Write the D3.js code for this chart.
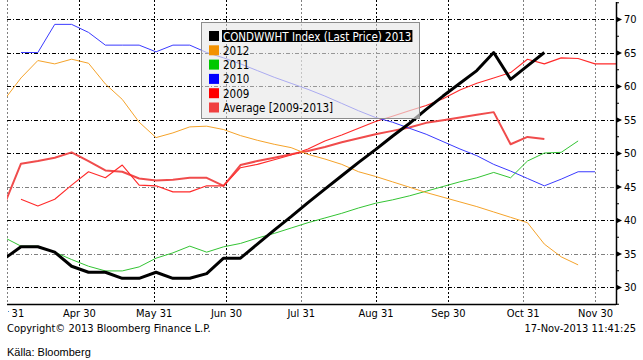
<!DOCTYPE html>
<html>
<head>
<meta charset="utf-8">
<script src="https://cdn.jsdelivr.net/npm/d3@7"></script>
<style>
    body { margin: 0; background: #fff; }
    svg text { font-family: "DejaVu Sans Condensed", "DejaVu Sans", sans-serif; font-stretch: condensed; }
</style>
</head>
<body>
<div id="chart"></div>
<script>
// weekly observation dates (Saturdays)
const weekDates = [
    "2013-03-30", "2013-04-06", "2013-04-13", "2013-04-20", "2013-04-27",
    "2013-05-04", "2013-05-11", "2013-05-18", "2013-05-25", "2013-06-01",
    "2013-06-08", "2013-06-15", "2013-06-22", "2013-06-29", "2013-07-06",
    "2013-07-13", "2013-07-20", "2013-07-27", "2013-08-03", "2013-08-10",
    "2013-08-17", "2013-08-24", "2013-08-31", "2013-09-07", "2013-09-14",
    "2013-09-21", "2013-09-28", "2013-10-05", "2013-10-12", "2013-10-19",
    "2013-10-26", "2013-11-02", "2013-11-09", "2013-11-16", "2013-11-23",
    "2013-11-30", "2013-12-07", "2013-12-14"
];

const series2013 = [34.2, 36, 36, 35.2, 33.1, 32.2, 32.2, 31.3, 31.3, 32.2, 31.3, 31.3, 32, 34.3, 34.3,
    36.4, 38.5, 40.5, 42.6, 44.6, 46.6, 48.6, 50.5, 52.5, 54.4, 56.5, 58.5, 60.4, 62.3, 65, 61, 63, 65];
const series2012 = [57.9, 61.2, 63.8, 63.3, 64, 63.4, 60.3, 58, 54.6, 52.3, 53, 53.9, 54, 53.5, 52.6,
    51.9, 51.3, 50.8, 49.8, 49.1, 48.3, 47.2, 46.5, 45.7, 44.9, 44.1, 43.4, 42.7, 42, 41.2, 40.4, 39.6,
    36.4, 34.5, 33.3];
const series2011 = [37.4, 36.1, 36.1, 35.2, 34.1, 33.1, 32.4, 32.4, 33, 34.3, 35.1, 36.1, 35.2, 36, 36.5,
    37.3, 38, 38.8, 39.6, 40.3, 41, 41.8, 42.5, 43, 43.6, 44.3, 45, 45.7, 46.3, 47.1, 46.3, 48.8, 50, 50.1, 51.8];
const series2010 = [null, 65, 65, 69.2, 69.2, 68, 66.1, 66.1, 66.1, 65.1, 66.1, 66.1, 65, 64.2, 63.3,
    62.3, 61.3, 60.4, 59.5, 58.5, 57.4, 56.3, 55.3, 54.6, 53.7, 52.8, 51.7, 50.6, 49.6, 48.3, 47.3, 46.2,
    45.1, 46.1, 47.2, 47.2];
const series2009 = [null, 43.1, 42.1, 43.1, 45.2, 47.2, 46.3, 48.2, 45.2, 45.1, 44.2, 44.2, 45.1, 45.1, 47.8,
    48.3, 49, 49.7, 50.6, 51.8, 52.7, 53.7, 54.7, 55.5, 56.3, 57.1, 58.1, 59.4, 60.4, 61.2, 62, 64, 63.3,
    64.2, 64.1, 63.3, 63.3, 63.3];
const seriesAverage = [42.2, 48.4, 48.8, 49.3, 50.1, 48.8, 47.4, 47.2, 46.2, 45.9, 46, 46.3, 46.3, 45.1, 48.2,
    48.8, 49.3, 49.8, 50.3, 50.9, 51.6, 52.2, 52.8, 53.3, 53.8, 54.5, 54.9, 55.3, 55.7, 56.1, 51.3, 52.4, 52.1];

const legendLabels = ["CONDWWHT Index (Last Price) 2013", "2012", "2011", "2010", "2009", "Average [2009-2013]"];
const monthEnds = ["2013-03-31", "2013-04-30", "2013-05-31", "2013-06-30", "2013-07-31",
    "2013-08-31", "2013-09-30", "2013-10-31", "2013-11-30"];
const yTicks = [30, 35, 40, 45, 50, 55, 60, 65, 70];
const yMinorTicks = [27.5, 32.5, 37.5, 42.5, 47.5, 52.5, 57.5, 62.5, 67.5, 72.5];

// styles
const lineColors = ["#000000", "#f5a32a", "#33c433", "#3a3aff", "#ff2a2a", "#f04c4c"];
const swatchColors = ["#000000", "#f39200", "#00c800", "#0000ff", "#ff0000", "#f04040"];
const lineWidths = [3, 1, 1, 1, 1.1, 2];
const greyMonths = [2, 6, 9, 10];
const greyLevels = [35, 45];

const parse = d3.timeParse("%Y-%m-%d");
const dates = weekDates.map(parse);
const allSeries = [series2013, series2012, series2011, series2010, series2009, seriesAverage];

const width = 643, height = 360;
const plot = { left: 7, right: 616, top: 0, bottom: 304 };

const svg = d3.select("#chart").append("svg")
    .attr("width", width)
    .attr("height", height);

svg.append("rect").attr("width", width).attr("height", height).attr("fill", "#fff");

const x = d3.scaleTime()
    .domain([parse("2013-03-31"), parse("2013-11-30")])
    .range([6.5, 595]);
const y = d3.scaleLinear()
    .domain([30, 70])
    .range([287, 19]);

svg.append("clipPath").attr("id", "plot-clip")
    .append("rect")
    .attr("x", plot.left).attr("y", plot.top)
    .attr("width", plot.right - plot.left).attr("height", plot.bottom - plot.top);
svg.append("clipPath").attr("id", "label-clip")
    .append("rect")
    .attr("x", 8).attr("y", 0).attr("width", width).attr("height", height);

// grid
const grid = svg.append("g").attr("class", "grid");
grid.selectAll(".vgrid")
    .data(monthEnds.map(parse))
    .enter().append("line")
    .attr("class", "vgrid")
    .attr("x1", d => Math.round(x(d)) + 0.5)
    .attr("x2", d => Math.round(x(d)) + 0.5)
    .attr("y1", plot.top)
    .attr("y2", plot.bottom)
    .attr("stroke", d => greyMonths.includes(d.getMonth()) ? "#808080" : "#000")
    .attr("stroke-dasharray", "2,2");
grid.selectAll(".hgrid")
    .data(yTicks)
    .enter().append("line")
    .attr("class", "hgrid")
    .attr("x1", plot.left)
    .attr("x2", plot.right)
    .attr("y1", d => Math.round(y(d)) + 0.5)
    .attr("y2", d => Math.round(y(d)) + 0.5)
    .attr("stroke", d => greyLevels.includes(d) ? "#808080" : "#000")
    .attr("stroke-dasharray", "4,2,1,2");

// series lines, average drawn first, 2013 on top
const line = d3.line()
    .defined(d => d.v != null)
    .x(d => x(d.date))
    .y(d => y(d.v));

const lines = svg.append("g").attr("clip-path", "url(#plot-clip)");
for (let i = allSeries.length - 1; i >= 0; i--) {
    const pts = allSeries[i].map((v, j) => ({ date: dates[j], v: v }));
    lines.append("path")
        .datum(pts)
        .attr("fill", "none")
        .attr("stroke", lineColors[i])
        .attr("stroke-width", lineWidths[i])
        .attr("stroke-linejoin", "round")
        .attr("d", line);
}

// x axis
const xAxis = svg.append("g")
    .attr("transform", `translate(0,${plot.bottom})`)
    .attr("clip-path", "url(#label-clip)")
    .call(d3.axisBottom(x)
        .tickValues(monthEnds.map(parse))
        .tickFormat(d3.timeFormat("%b %d"))
        .tickSize(0)
        .tickPadding(5));
xAxis.select(".domain").remove();
xAxis.selectAll("text").attr("font-size", 11).attr("fill", "#000")
    .style("font-family", null);

svg.append("line")
    .attr("x1", plot.left).attr("x2", plot.right)
    .attr("y1", plot.bottom + 0.5).attr("y2", plot.bottom + 0.5)
    .attr("stroke", "#000").attr("stroke-width", 1.5);

// right axis
const yAxis = svg.append("g")
    .attr("transform", `translate(${plot.right},0)`)
    .call(d3.axisRight(y)
        .tickValues(yTicks)
        .tickSize(0)
        .tickPadding(8));
yAxis.select(".domain").remove();
yAxis.selectAll("text").attr("font-size", 11).attr("fill", "#000").attr("dy", "0.35em")
    .style("font-family", null);
yAxis.selectAll(".tick").append("path")
    .attr("d", "M0,-3L6,0L0,3Z")
    .attr("fill", "#000");

svg.append("g")
    .attr("transform", `translate(${plot.right},0)`)
    .call(d3.axisRight(y).tickValues(yMinorTicks).tickSize(3).tickFormat(""))
    .call(g => g.select(".domain").remove());

svg.append("line")
    .attr("x1", plot.right + 0.5).attr("x2", plot.right + 0.5)
    .attr("y1", 2).attr("y2", plot.bottom + 1)
    .attr("stroke", "#000").attr("stroke-width", 1.5);

// legend
const legend = svg.append("g").attr("transform", "translate(201,22)");
legend.append("rect")
    .attr("x", 0.5).attr("y", 0.5)
    .attr("width", 218).attr("height", 96)
    .attr("fill", "#e8e8e8").attr("fill-opacity", 0.65)
    .attr("stroke", "#8c8c8c");

legendLabels.forEach((label, i) => {
    const row = legend.append("g").attr("transform", `translate(0,${9 + i * 14.3})`);
    row.append("rect")
        .attr("x", 8).attr("y", 0)
        .attr("width", 10).attr("height", 10)
        .attr("fill", swatchColors[i]);
    const t = row.append("text")
        .attr("x", 22).attr("y", 9.5)
        .attr("font-size", 11.5)
        .attr("fill", i === 0 ? "#fff" : "#000")
        .text(label);
    if (i === 0) {
        const bb = t.node().getBBox();
        row.insert("rect", "text")
            .attr("x", bb.x - 1).attr("y", -1)
            .attr("width", bb.width + 2).attr("height", 12)
            .attr("fill", "#000");
    }
});

// footer
svg.append("text")
    .attr("x", 7).attr("y", 332)
    .attr("font-size", 11)
    .text("Copyright\u00a9 2013 Bloomberg Finance L.P.");
svg.append("text")
    .attr("x", 636).attr("y", 332)
    .attr("text-anchor", "end")
    .attr("font-size", 11)
    .text("17-Nov-2013 11:41:25");
svg.append("text")
    .attr("x", 7).attr("y", 356)
    .attr("font-size", 11)
    .style("font-family", "'Liberation Sans', Arial, sans-serif")
    .style("font-stretch", "normal")
    .text("Källa: Bloomberg");
</script>
</body>
</html>
